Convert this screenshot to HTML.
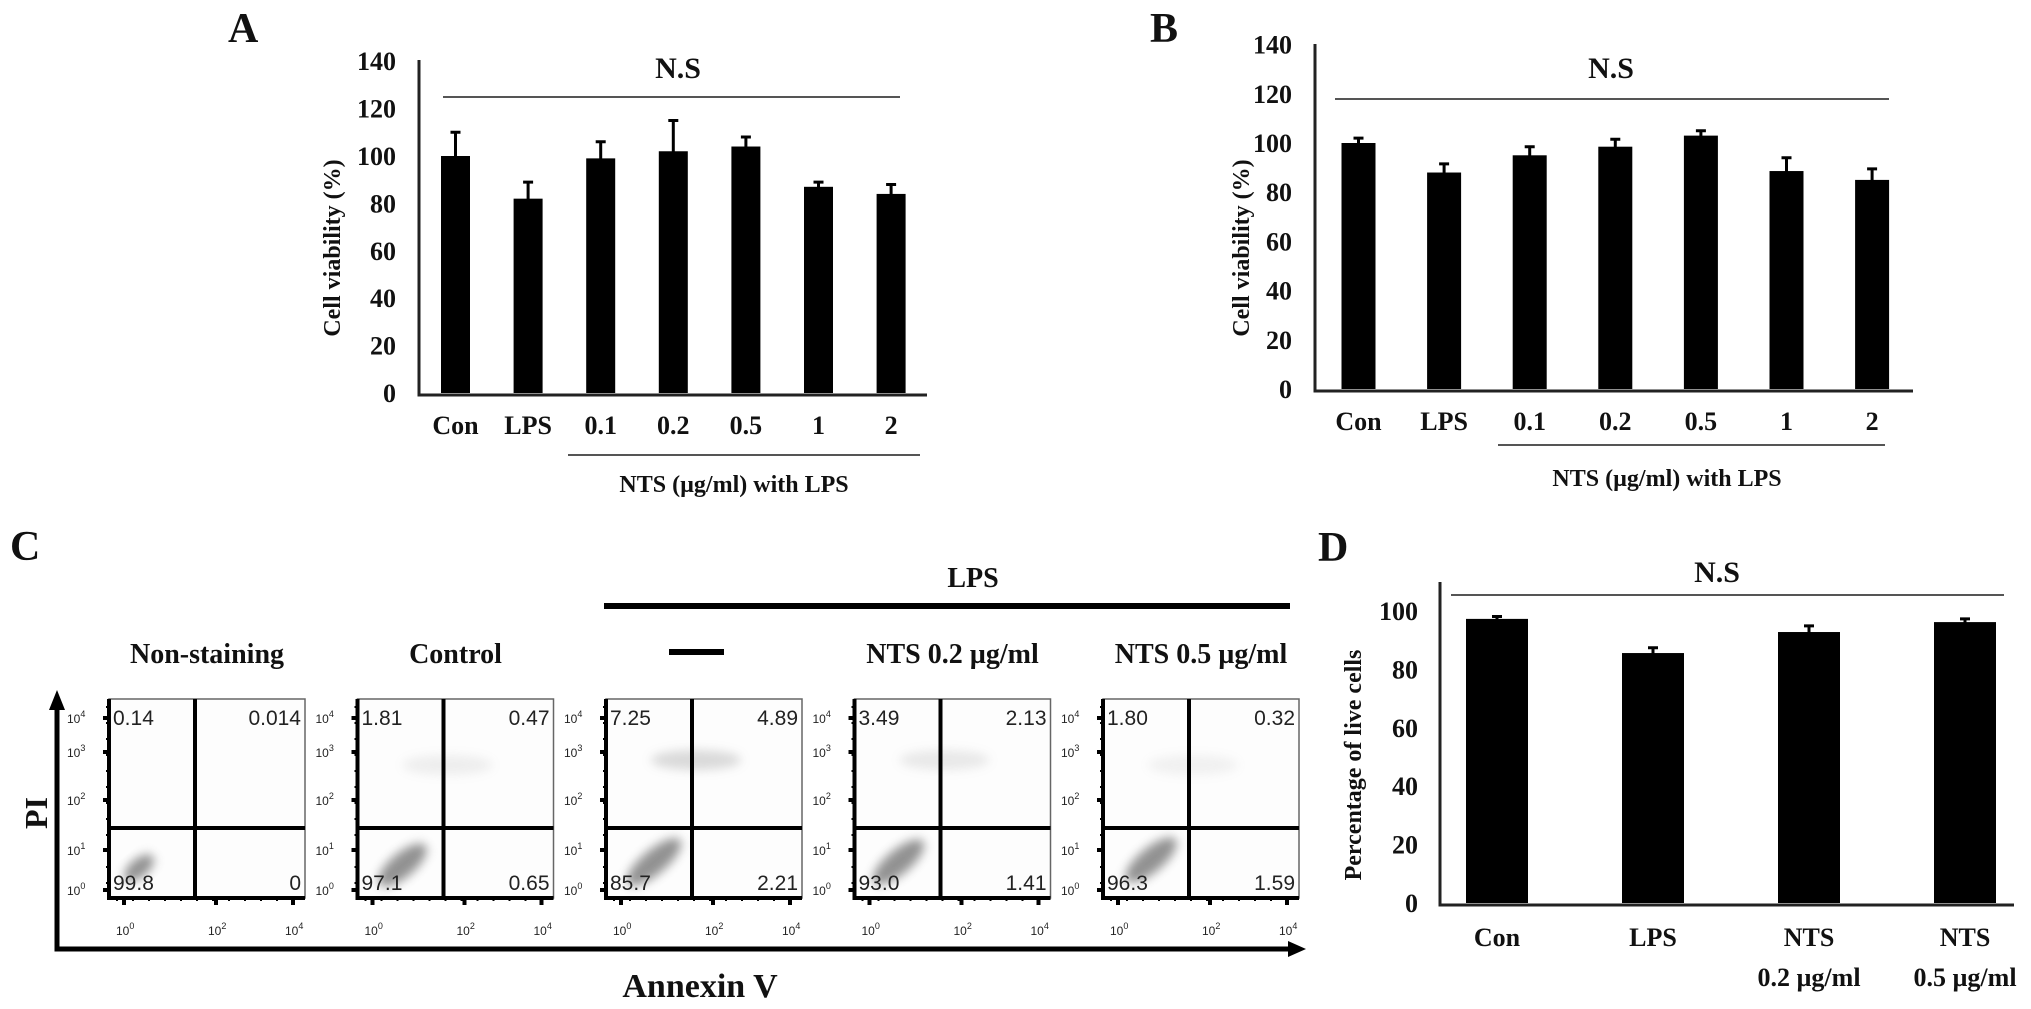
<!DOCTYPE html>
<html><head><meta charset="utf-8"><style>
html,body{margin:0;padding:0;background:#fff;}
svg{display:block;}
text{font-family:"Liberation Serif",serif;font-weight:bold;fill:#111;}
.num{font-family:"Liberation Sans",sans-serif;font-weight:normal;fill:#222;}
</style></head><body>
<svg id="fig" width="2031" height="1009" viewBox="0 0 2031 1009" xmlns="http://www.w3.org/2000/svg">
<defs><filter id="blur" x="-50%" y="-50%" width="200%" height="200%"><feGaussianBlur stdDeviation="5"/></filter></defs>
<g id="root"></g>
</svg>
<script>
// Panel A data
const catsA = ["Con","LPS","0.1","0.2","0.5","1","2"];
const valsA = [100, 82, 99, 102, 104, 87, 84];
const errA  = [10, 7, 7, 13, 4, 2, 4];
// Panel B data
const catsB = ["Con","LPS","0.1","0.2","0.5","1","2"];
const valsB = [100, 88, 95, 98.5, 103, 88.6, 85];
const errB  = [2, 3.5, 3.5, 3, 2, 5.4, 4.5];
const ticksAB = [0,20,40,60,80,100,120,140];
// Panel D data
const catsD = ["Con","LPS","NTS|0.2 µg/ml","NTS|0.5 µg/ml"];
const valsD = [97.3, 85.6, 92.8, 96.2];
const errD  = [0.8, 1.8, 2.1, 1.1];
const ticksD = [0,20,40,60,80,100];
// Panel C data
const flowTitles = ["Non-staining","Control","—","NTS 0.2 µg/ml","NTS 0.5 µg/ml"];
const flowUL = ["0.14","1.81","7.25","3.49","1.80"];
const flowUR = ["0.014","0.47","4.89","2.13","0.32"];
const flowLL = ["99.8","97.1","85.7","93.0","96.3"];
const flowLR = ["0","0.65","2.21","1.41","1.59"];

const NS="http://www.w3.org/2000/svg";
const root=document.getElementById('root');
function mk(tag,attrs,parent,txt){const e=document.createElementNS(NS,tag);for(const k in attrs)e.setAttribute(k,attrs[k]);if(txt!==undefined)e.textContent=txt;(parent||root).appendChild(e);return e;}

function barChart(o){
  const g=mk('g',{});
  
  
  const y=v=>o.y0-v*o.k;
  const x=i=>o.c0+i*o.step;
  o.ticks.forEach(t=>{const tl=mk('text',{x:o.tickR,y:y(t)+9,'text-anchor':'end','font-size':26},g,String(t));
    
    });
  o.vals.forEach((v,i)=>{
    const b=mk('rect',{x:x(i)-o.w/2,y:y(v),width:o.w,height:o.y0-y(v),fill:'#000'},g);
    
    
    const top=y(v+o.errs[i]);
    const e=mk('path',{d:`M${x(i)} ${y(v)+12}V${top}M${x(i)-5} ${top}H${x(i)+5}`,stroke:'#000','stroke-width':3,fill:'none'},g);
    
    
    const parts=o.cats[i].split('|');
    parts.forEach((p,j)=>{const t=mk('text',{x:x(i),y:o.labY+j*40,'text-anchor':'middle','font-size':26},g,p);
      
      });
  });
  const ax=mk('path',{d:`M${o.ax} ${o.axTop}V${o.y0+2}H${o.axR}`,stroke:'#222','stroke-width':3,fill:'none'},g);
  
  
  const ns=mk('line',{x1:o.nsX1,x2:o.nsX2,y1:o.nsY,y2:o.nsY,stroke:'#555','stroke-width':2},g);
  
  
  const nt=mk('text',{x:o.nsTx,y:o.nsTy+10,'text-anchor':'middle','font-size':30},g,'N.S');
  
  
  const yt=mk('text',{x:0,y:0,'text-anchor':'middle','font-size':24,transform:`translate(${o.ytX+8},${o.ytY}) rotate(-90)`},g,o.ytitle);
  
  
  if(o.brY){
    const br=mk('line',{x1:o.brX1,x2:o.brX2,y1:o.brY,y2:o.brY,stroke:'#555','stroke-width':2},g);
    
    
    const bt=mk('text',{x:o.brTx,y:o.brTy+9,'text-anchor':'middle','font-size':24},g,'NTS (µg/ml) with LPS');
    
    
  }
  const L=mk('text',{x:o.letX,y:o.letY,'font-size':42},g,o.letter);
  
  
}

barChart({name:'panel-a-chart',letter:'A',letX:228,letY:42,cats:catsA,vals:valsA,errs:errA,ticks:ticksAB,
  y0:393,k:2.37,c0:455.5,step:72.6,w:29,tickR:396,ax:419,axTop:60,axR:927,labY:434,
  nsX1:443,nsX2:900,nsY:97,nsTx:678,nsTy:68,ytX:332,ytY:248,ytitle:'Cell viability (%)',
  brX1:568,brX2:920,brY:455,brTx:734,brTy:483});
barChart({name:'panel-b-chart',letter:'B',letX:1150,letY:42,cats:catsB,vals:valsB,errs:errB,ticks:ticksAB,
  y0:389,k:2.46,c0:1358.5,step:85.6,w:34,tickR:1292,ax:1315,axTop:44,axR:1913,labY:430,
  nsX1:1335,nsX2:1889,nsY:99,nsTx:1611,nsTy:68,ytX:1241,ytY:248,ytitle:'Cell viability (%)',
  brX1:1498,brX2:1885,brY:445,brTx:1667,brTy:477});
barChart({name:'panel-d-chart',letter:'D',letX:1318,letY:561,cats:catsD,vals:valsD,errs:errD,ticks:ticksD,
  y0:903,k:2.92,c0:1497,step:156,w:62,tickR:1418,ax:1440,axTop:582,axR:2014,labY:946,
  nsX1:1451,nsX2:2004,nsY:595,nsTx:1717,nsTy:572,ytX:1353,ytY:765,ytitle:'Percentage of live cells'});

// Panel C
const gc=mk('g',{});


const cL=mk('text',{x:10,y:560,'font-size':42},gc,'C');


const boxT=699,boxB=898,boxW=196,qx=86,qy=828;
const lefts=flowTitles.map((_,i)=>109+i*248.5);
lefts.forEach((L,i)=>{
  const pg=mk('g',{},gc);
  
  
  mk('rect',{x:L,y:boxT,width:boxW,height:boxB-boxT,fill:'#fdfdfd',stroke:'#666','stroke-width':1.5},pg);
  const big=[[L+30,868,18,9],[L+45,865,30,12],[L+48,862,34,12],[L+44,862,32,12],[L+48,860,32,12]][i];
  mk('ellipse',{cx:big[0],cy:big[1],rx:big[2],ry:big[3],fill:'#777',opacity:0.8,filter:'url(#blur)',transform:`rotate(-40 ${big[0]} ${big[1]})`},pg);
  if(i>=1){const op=[0,0.15,0.35,0.2,0.12][i];
    mk('ellipse',{cx:L+90,cy:[0,765,760,760,765][i],rx:45,ry:10,fill:'#999',opacity:op,filter:'url(#blur)'},pg);}
  mk('line',{x1:L+qx,x2:L+qx,y1:boxT,y2:boxB,stroke:'#000','stroke-width':4},pg);
  mk('line',{x1:L,x2:L+boxW,y1:qy,y2:qy,stroke:'#000','stroke-width':4},pg);
  mk('path',{d:`M${L} ${boxT}V${boxB}H${L+boxW}`,stroke:'#000','stroke-width':4,fill:'none'},pg);
  [718,752,800,850,890].forEach(yy=>mk('line',{x1:L-6,x2:L,y1:yy,y2:yy,stroke:'#000','stroke-width':4},pg));
  for(let t=0;t<12;t++){mk('line',{x1:L-3,x2:L,y1:boxT+8+t*16,y2:boxT+8+t*16,stroke:'#000','stroke-width':2},pg);
    mk('line',{x1:L+8+t*16,x2:L+8+t*16,y1:boxB,y2:boxB+3,stroke:'#000','stroke-width':2},pg);}
  [15,107,184].forEach(xx=>mk('line',{x1:L+xx,x2:L+xx,y1:boxB,y2:boxB+7,stroke:'#000','stroke-width':4},pg));
  [['4',718],['3',752],['2',800],['1',850],['0',890]].forEach(([p,yy])=>{
    const t=mk('text',{x:L-42,y:yy+5,'font-size':12,class:'num'},pg,'10');
    mk('tspan',{dy:-6,'font-size':9},t,p);
    
    });
  [['0',15],['2',107],['4',184]].forEach(([p,xx])=>{
    const t=mk('text',{x:L+xx-8,y:935,'font-size':12,class:'num'},pg,'10');
    mk('tspan',{dy:-6,'font-size':9},t,p);
    
    });
  const q=[[flowUL[i],L+4,725,'start'],[flowUR[i],L+boxW-4,725,'end'],[flowLL[i],L+4,890,'start'],[flowLR[i],L+boxW-4,890,'end']];
  q.forEach(([s,xx,yy,an])=>{const t=mk('text',{x:xx,y:yy,'font-size':21,'text-anchor':an,class:'num'},pg,s);
    
    });
  if(flowTitles[i]==='—'){
    const d=mk('rect',{x:669,y:649,width:55,height:6,fill:'#000'},pg);
    
    
  } else {
    const t=mk('text',{x:L+boxW/2,y:663,'text-anchor':'middle','font-size':28},pg,flowTitles[i]);
    
    
  }
});
const lpsBar=mk('rect',{x:604,y:603,width:686,height:6,fill:'#000'},gc);


const lpsT=mk('text',{x:973,y:587,'text-anchor':'middle','font-size':28},gc,'LPS');


const axC=mk('path',{d:'M57 702V949H1292',stroke:'#000','stroke-width':5,fill:'none'},gc);


mk('polygon',{points:'57,690 49,710 65,710',fill:'#000'},gc);
mk('polygon',{points:'1306,949 1288,941 1288,957',fill:'#000'},gc);
const pi=mk('text',{x:0,y:0,'text-anchor':'middle','font-size':32,transform:'translate(47,813) rotate(-90)'},gc,'PI');


const an=mk('text',{x:700,y:997,'text-anchor':'middle','font-size':34},gc,'Annexin V');


</script>
</body></html>
